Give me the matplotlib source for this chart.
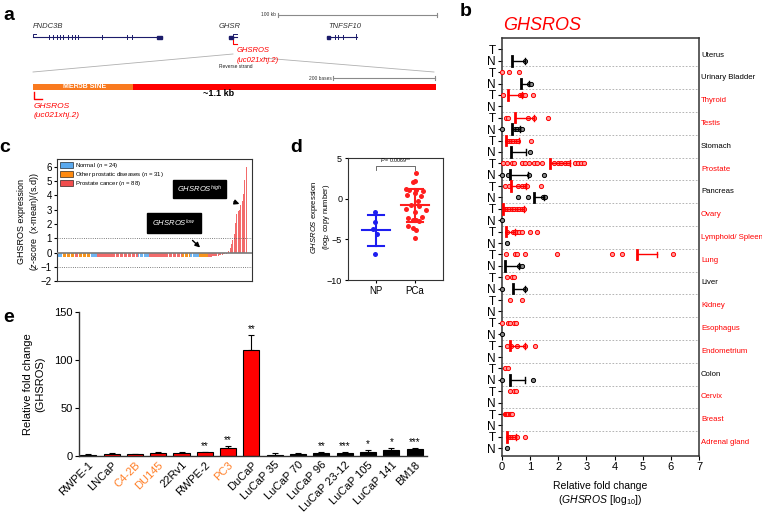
import numpy as np
import matplotlib
matplotlib.use('Agg')
import matplotlib.pyplot as plt
from matplotlib.patches import Rectangle

plt.rcParams['font.family'] = ['Liberation Sans', 'DejaVu Sans']
plt.rcParams['mathtext.fontset'] = 'custom'
plt.rcParams['mathtext.rm'] = 'Liberation Sans'
plt.rcParams['mathtext.it'] = 'Liberation Sans:italic'
plt.rcParams['mathtext.bf'] = 'Liberation Sans:bold'
plt.rcParams['axes.edgecolor'] = '#333333'

# ---------------- DATA ----------------
# panel b
b_tissues = ['Uterus', 'Urinary Bladder', 'Thyroid', 'Testis', 'Stomach', 'Prostate',
             'Pancreas', 'Ovary', 'Lymphoid/ Spleen', 'Lung', 'Liver', 'Kidney',
             'Esophagus', 'Endometrium', 'Colon', 'Cervix', 'Breast', 'Adrenal gland']
b_tissue_red = [False, False, True, True, False, True, False, True, True, True,
                False, True, True, True, False, True, True, True]
b_T_points = [
    [],
    [0.0, 0.25, 0.6],
    [0.05, 0.64, 0.7, 0.76, 0.82, 1.09],
    [0.14, 0.2, 0.91, 1.14, 1.65],
    [0.16, 0.25, 0.32, 0.4, 0.49, 0.58, 1.03],
    [0.05, 0.17, 0.35, 0.43, 0.71, 0.83, 0.95, 1.13, 1.25, 1.43, 1.83, 2.0, 2.1,
     2.23, 2.35, 2.58, 2.7, 2.8, 2.9],
    [0.09, 0.25, 0.58, 0.72, 0.82, 0.88, 1.39],
    [0.09, 0.17, 0.25, 0.34, 0.44, 0.52, 0.6, 0.7, 0.78],
    [0.17, 0.4, 0.46, 0.52, 0.6, 0.7, 0.99, 1.23],
    [0.14, 0.46, 0.52, 0.82, 1.94, 3.92, 4.28, 6.07],
    [0.17, 0.35, 0.41],
    [0.29, 0.7],
    [0.0, 0.22, 0.27, 0.44, 0.49],
    [0.17, 0.33, 0.52, 0.8, 1.17],
    [0.09, 0.23],
    [0.29, 0.44, 0.49],
    [0.09, 0.13, 0.18, 0.23, 0.27, 0.32, 0.34],
    [0.23, 0.29, 0.37, 0.44, 0.52, 0.8],
]
nan = np.nan
b_T_mean = [nan, nan, 0.22, 0.46, 0.14, 1.71, 0.32, 0.05, 0.14, 4.79,
            nan, nan, nan, 0.29, nan, nan, nan, 0.19]
b_T_sd = [nan, nan, 0.5, 0.68, 0.45, 0.71, 0.55, 0.73, 0.32, 0.73,
          nan, nan, nan, 0.51, nan, nan, nan, 0.3]
b_N_points = [
    [0.81],
    [0.95, 1.02],
    [],
    [0.0, 0.45, 0.55, 0.65, 0.72],
    [1.01],
    [0.0, 0.22, 0.97, 1.5],
    [0.56, 0.91, 1.44, 1.53],
    [0.0],
    [0.19],
    [0.6, 0.72],
    [0.0, 0.82],
    [],
    [0.0],
    [],
    [0.0, 1.09],
    [],
    [],
    [0.19],
]
b_N_mean = [0.37, 0.68, nan, 0.34, 0.31, 0.28, 1.14, nan, nan, 0.1,
            0.38, nan, nan, nan, 0.29, nan, nan, nan]
b_N_sd = [0.44, 0.27, nan, 0.3, 0.53, 0.66, 0.36, nan, nan, 0.5,
          0.44, nan, nan, nan, 0.53, nan, nan, nan]

# panel c
c_groups = ['Normal', 'Other prostatic diseases', 'Prostate cancer']
c_group_n = [24, 31, 88]
c_segments = [('N', 4), ('O', 9), ('P', 3), ('O', 9), ('N', 5), ('P', 31), ('N', 8),
              ('P', 25), ('O', 6), ('N', 7), ('O', 7), ('P', 29)]
c_values = ([-0.27] * 117 +
            [-0.26, -0.25, -0.24, -0.23, -0.21, -0.19, -0.17, -0.15, -0.12, -0.09, -0.06, -0.03] +
            [0.1, 0.3, 0.6, 0.9, 1.3, 2.1, 2.7, 2.9, 3.0, 3.3, 3.6, 4.1, 5.1, 6.0])

# panel d
d_groups = ['NP', 'PCa']
d_np_values = [-1.66, -2.85, -3.72, -4.3, -6.74]
d_np_offset = [-0.02, -0.03, -0.08, 0.03, -0.02]
d_pca_values = [3.22, 2.18, 2.06, 1.24, 1.15, 1.15, 0.94, 0.74, 0.53, 0.32, -0.3, -0.71,
                -0.83, -1.24, -1.33, -1.66, -2.23, -2.35, -2.56, -2.65, -2.77, -3.31,
                -3.6, -3.8, -4.88]
d_pca_offset = [0.03, 0.0, -0.04, -0.23, -0.15, 0.04, 0.21, 0.0, -0.2, 0.15, 0.09, -0.11,
                0.11, -0.23, 0.28, 0.0, 0.17, -0.17, -0.04, 0.03, 0.11, -0.17, -0.04, 0.04, 0.0]
d_means = [-3.85, -0.79]
d_sds = [1.9, 2.0]
d_pvalue = 'P = 0.0069**'

# panel e
e_labels = ['RWPE-1', 'LNCaP', 'C4-2B', 'DU145', '22Rv1', 'RWPE-2', 'PC3', 'DuCaP',
            'LuCaP 35', 'LuCaP 70', 'LuCaP 96', 'LuCaP 23-12', 'LuCaP 105', 'LuCaP 141', 'BM18']
e_values = [1.0, 1.5, 1.8, 2.5, 2.5, 3.5, 8.5, 111, 1.2, 2.0, 2.5, 3.0, 3.5, 5.5, 6.5]
e_errors = [0.3, 1.0, 0.5, 1.5, 1.5, 0.8, 1.5, 15, 1.5, 1.0, 1.0, 1.0, 2.5, 3.0, 2.0]
e_stars = ['', '', '', '', '', '**', '**', '**', '', '', '**', '***', '*', '*', '***']
e_bar_red = [False, True, True, True, True, True, True, True,
             False, False, False, False, False, False, False]
e_label_orange = [False, False, True, True, False, False, True, False,
                  False, False, False, False, False, False, False]

# ---------------- FIGURE ----------------
W, H = 762, 512
fig = plt.figure(figsize=(W / 100, H / 100), dpi=100)


def px_axes(x0, y0, x1, y1):
    return fig.add_axes([x0 / W, 1 - y1 / H, (x1 - x0) / W, (y1 - y0) / H])


RED = '#FF0000'
ov = fig.add_axes([0, 0, 1, 1], zorder=10)
ov.set_xlim(0, W)
ov.set_ylim(H, 0)
ov.axis('off')
ov.patch.set_visible(False)

# panel letters
for letter, (x, y) in zip('abcde', [(9, 16), (466, 12), (5, 148), (296, 148), (9, 317)]):
    ov.text(x, y, letter, fontsize=14, fontweight='bold', ha='center', va='center')

# ---------------- PANEL a (schematic) ----------------
navy = '#1C1C6B'
gray = '#8A8A8A'
ov.plot([278, 437], [15, 15], color=gray, lw=0.8)
for xx in (278, 437):
    ov.plot([xx, xx], [13, 17], color=gray, lw=0.8)
ov.text(276, 15, '100 kb', fontsize=3.5, ha='right', va='center', color='#333333')

a_genes = ['FNDC3B', 'GHSR', 'TNFSF10']
a_gene_span = [(33, 162), (229, 237), (327, 357)]
a_label_x = [33, 219, 328]
for name, (g0, g1), lx in zip(a_genes, a_gene_span, a_label_x):
    ov.plot([g0, g1], [37, 37], color=navy, lw=0.8)
    ov.text(lx, 26, name, fontsize=5.5, style='italic', color='#333333', va='center')
for xx in [49.3, 52.7, 56.7, 60, 62.7, 68.3, 71.7, 75, 77.7, 102.3, 126.7, 131.7,
           335, 338.3, 343.3]:
    ov.plot([xx, xx], [35, 39], color=navy, lw=0.7)
for (b0, b1) in [(157, 162), (229, 233), (327, 330)]:
    ov.add_patch(Rectangle((b0, 35.5), b1 - b0, 3, color=navy))
ov.plot([33, 33, 36], [37, 34, 34], color=navy, lw=0.7)
ov.plot([233, 233, 237], [37, 34, 34], color=navy, lw=0.7)
ov.plot([356, 356], [34, 39], color=navy, lw=0.7)
ov.plot([233, 233, 237], [40, 44, 44], color=RED, lw=0.8)
ov.text(237, 51, 'GHSROS', fontsize=5.5, style='italic', color=RED, va='center')
ov.text(237, 60, '(uc021xhj.2)', fontsize=5.5, style='italic', color=RED, va='center')
ov.plot([233, 33], [54, 72], color='#B0B0B0', lw=0.6)
ov.plot([263, 434], [58, 72], color='#B0B0B0', lw=0.6)
ov.text(219, 67, 'Reverse strand', fontsize=3.5, va='center', color='#222222')
ov.plot([333, 435], [78, 78], color=gray, lw=0.8)
for xx in (333, 435):
    ov.plot([xx, xx], [76, 80], color=gray, lw=0.8)
ov.text(332, 78, '200 bases', fontsize=3.5, ha='right', va='center', color='#333333')
ov.add_patch(Rectangle((33, 83.5), 100, 6, color='#F97A1F', lw=0))
ov.add_patch(Rectangle((133, 83.5), 303, 6, color=RED, lw=0))
ov.text(85, 86.7, 'MER5B SINE', fontsize=5, color='white', ha='center', va='center',
        fontweight='bold')
ov.text(219, 94, '~1.1 kb', fontsize=6.5, ha='center', va='center', fontweight='bold')
ov.plot([34, 34, 42], [92, 99, 99], color=RED, lw=1.0)
ov.text(34, 107, 'GHSROS', fontsize=6, style='italic', color=RED, va='center')
ov.text(34, 115.5, '(uc021xhj.2)', fontsize=6, style='italic', color=RED, va='center')

# ---------------- PANEL b ----------------
ax_b = px_axes(502, 37.7, 699, 456)
for i in range(len(b_tissues)):
    yT, yN = 2 * i, 2 * i + 1
    for pts, y, col, mfc in [(b_T_points[i], yT, RED, '#FF9A9A'),
                             (b_N_points[i], yN, 'black', '#888888')]:
        if len(pts):
            ax_b.plot(pts, [y] * len(pts), 'o', ms=3.0, mfc=mfc, mec=col, mew=0.7,
                      clip_on=False, zorder=3)
    for m, s, y, col in [(b_T_mean[i], b_T_sd[i], yT, RED), (b_N_mean[i], b_N_sd[i], yN, 'black')]:
        if np.isnan(m):
            continue
        ax_b.plot([m, m + s], [y, y], color=col, lw=1.0, zorder=4)
        ax_b.plot([m + s, m + s], [y - 0.25, y + 0.25], color=col, lw=1.0, zorder=4)
        ax_b.plot([m, m], [y - 0.42, y + 0.42], color=col, lw=2.0, zorder=4)
    if i < len(b_tissues) - 1:
        ax_b.axhline(2 * i + 1.5, color='#A8A8A8', lw=0.6, ls=(0, (2, 2)))
    ax_b.text(7.07, 2 * i + 0.5, b_tissues[i], color=RED if b_tissue_red[i] else 'black',
              fontsize=5.6, va='center', ha='left', clip_on=False)
ax_b.set_xlim(0, 7)
ax_b.set_ylim(35.68, -1.02)
ax_b.set_xticks(range(8))
ax_b.set_yticks(range(36))
ax_b.set_yticklabels(['T', 'N'] * 18, fontsize=8.5)
ax_b.tick_params(axis='x', labelsize=8, length=3, pad=1.5)
ax_b.tick_params(axis='y', length=3, pad=1.5)
for sp in ax_b.spines.values():
    sp.set_linewidth(1.1)
ov.text(503, 25, 'GHSROS', fontsize=13, style='italic', color=RED, va='center', ha='left')
ov.text(600, 486, 'Relative fold change', fontsize=7.5, ha='center', va='center')
ov.text(600, 500, r'$(\mathit{GHSROS}\ [\mathrm{log}_{10}])$', fontsize=7.5, ha='center',
        va='center')

# ---------------- PANEL c ----------------
ax_c = px_axes(57.3, 159.3, 252.3, 281.3)
c_cols = {'N': '#6FB4F0', 'O': '#F7941D', 'P': '#F26B6B'}
c_colors = []
for key, n in c_segments:
    c_colors += [c_cols[key]] * n
ax_c.bar(range(len(c_values)), c_values, width=0.85, color=c_colors, linewidth=0)
ax_c.axhline(0, color='#7A7A7A', lw=1.2, zorder=3)
ax_c.axhline(1, color='#555555', lw=0.6, ls=':')
ax_c.axhline(-1, color='#555555', lw=0.6, ls=':')
ax_c.set_xlim(-0.5, 146.7)
ax_c.set_ylim(-2, 6.52)
ax_c.set_xticks([])
ax_c.set_yticks(range(-2, 7))
ax_c.tick_params(axis='y', labelsize=7, length=2.5, pad=1.5)
leg_cols = ['#5AA9EE', '#FF8A10', '#F04D4D']
for k, (g, n, col) in enumerate(zip(c_groups, c_group_n, leg_cols)):
    yy = 165.3 + 9 * k
    ov.add_patch(Rectangle((60, yy - 3), 13, 6, facecolor=col, edgecolor='black', lw=0.4))
    ov.text(75, yy, g + ' ($n$ = %d)' % n, fontsize=4.3, va='center', ha='left')
ov.text(29, 222, 'GHSROS expression\n($z$-score  (x-mean)/(s.d))', fontsize=6.5,
        rotation=90, ha='center', va='center', linespacing=1.3)
ax_c.annotate(r'$\mathit{GHSROS}^{\mathit{high}}$', xy=(137, 3.4), xytext=(199.5, 189),
              textcoords=ov.transData, fontsize=5.5, color='white', ha='center', va='center',
              fontweight='bold',
              bbox=dict(boxstyle='square,pad=0.5', fc='black', ec='black'),
              arrowprops=dict(arrowstyle='-|>', color='black', lw=1.0, mutation_scale=7,
                              shrinkA=6, shrinkB=0))
ax_c.annotate(r'$\mathit{GHSROS}^{\mathit{low}}$', xy=(107.3, 0.36), xytext=(174, 223),
              textcoords=ov.transData, fontsize=5.5, color='white', ha='center', va='center',
              fontweight='bold',
              bbox=dict(boxstyle='square,pad=0.6', fc='black', ec='black'),
              arrowprops=dict(arrowstyle='-|>', color='black', lw=1.0, mutation_scale=7,
                              shrinkA=7, shrinkB=0))

# ---------------- PANEL d ----------------
ax_d = px_axes(347.7, 158.3, 443.3, 280)
d_cols = ['#1E1EF0', '#FF1E1E']
for gi, (vals, offs) in enumerate([(d_np_values, d_np_offset), (d_pca_values, d_pca_offset)]):
    col = d_cols[gi]
    ax_d.plot(np.array(offs) + gi, vals, 'o', ms=3.6, color=col, mew=0, zorder=3)
    m, s = d_means[gi], d_sds[gi]
    ax_d.plot([gi - 0.35, gi + 0.35], [m, m], color=col, lw=1.5, zorder=4)
    ax_d.plot([gi, gi], [m - s, m + s], color=col, lw=1.5, zorder=4)
    for yy in (m - s, m + s):
        ax_d.plot([gi - 0.2, gi + 0.2], [yy, yy], color=col, lw=1.5, zorder=4)
ax_d.plot([0, 0, 1, 1], [3.6, 4.0, 4.0, 3.6], color='#555555', lw=0.6)
ax_d.text(0.5, 4.3, d_pvalue.replace('P', '$P$'), fontsize=3.8, ha='center', va='bottom')
ax_d.set_xlim(-0.73, 1.73)
ax_d.set_ylim(-10, 5)
ax_d.set_xticks([0, 1])
ax_d.set_xticklabels(d_groups, fontsize=7)
ax_d.set_yticks([-10, -5, 0, 5])
ax_d.tick_params(axis='y', labelsize=6.5, length=2.5, pad=1.5)
ax_d.tick_params(axis='x', length=2.5, pad=2)
ov.text(320.5, 217, '$\\mathit{GHSROS}$ expression\n(log$_2$ copy number)', fontsize=5.5,
        rotation=90, ha='center', va='center', linespacing=1.15)

# ---------------- PANEL e ----------------
ax_e = px_axes(79, 312.3, 426.7, 455.7)
xe = np.arange(len(e_labels))
ax_e.bar(xe, e_values, width=0.69, color=[RED if r else 'black' for r in e_bar_red],
         edgecolor='black', linewidth=0.8, zorder=2)
ax_e.errorbar(xe, e_values, yerr=[np.zeros(len(xe)), e_errors], fmt='none', ecolor='black',
              elinewidth=0.8, capsize=2.5, capthick=0.8, zorder=1)
for x, v, e, s in zip(xe, e_values, e_errors, e_stars):
    if s:
        ax_e.text(x, v + e + 1.0, s, ha='center', va='bottom', fontsize=7)
ax_e.set_xlim(-0.4, 14.52)
ax_e.set_ylim(0, 150)
ax_e.set_yticks([0, 50, 100, 150])
ax_e.set_xticks(xe)
ax_e.set_xticklabels(e_labels, rotation=45, ha='right', rotation_mode='anchor', fontsize=8)
for lab, orange in zip(ax_e.get_xticklabels(), e_label_orange):
    lab.set_color('#FF7F27' if orange else 'black')
ax_e.tick_params(axis='x', length=0, pad=3)
ax_e.tick_params(axis='y', labelsize=8, length=3, pad=1.5)
ax_e.spines['top'].set_visible(False)
ax_e.spines['right'].set_visible(False)
ax_e.spines['left'].set_linewidth(1.0)
ax_e.spines['bottom'].set_linewidth(1.0)
ov.text(34, 384, 'Relative fold change\n(GHSROS)', fontsize=8, rotation=90, ha='center',
        va='center', linespacing=1.2)

fig.savefig('out.png', dpi=100)
